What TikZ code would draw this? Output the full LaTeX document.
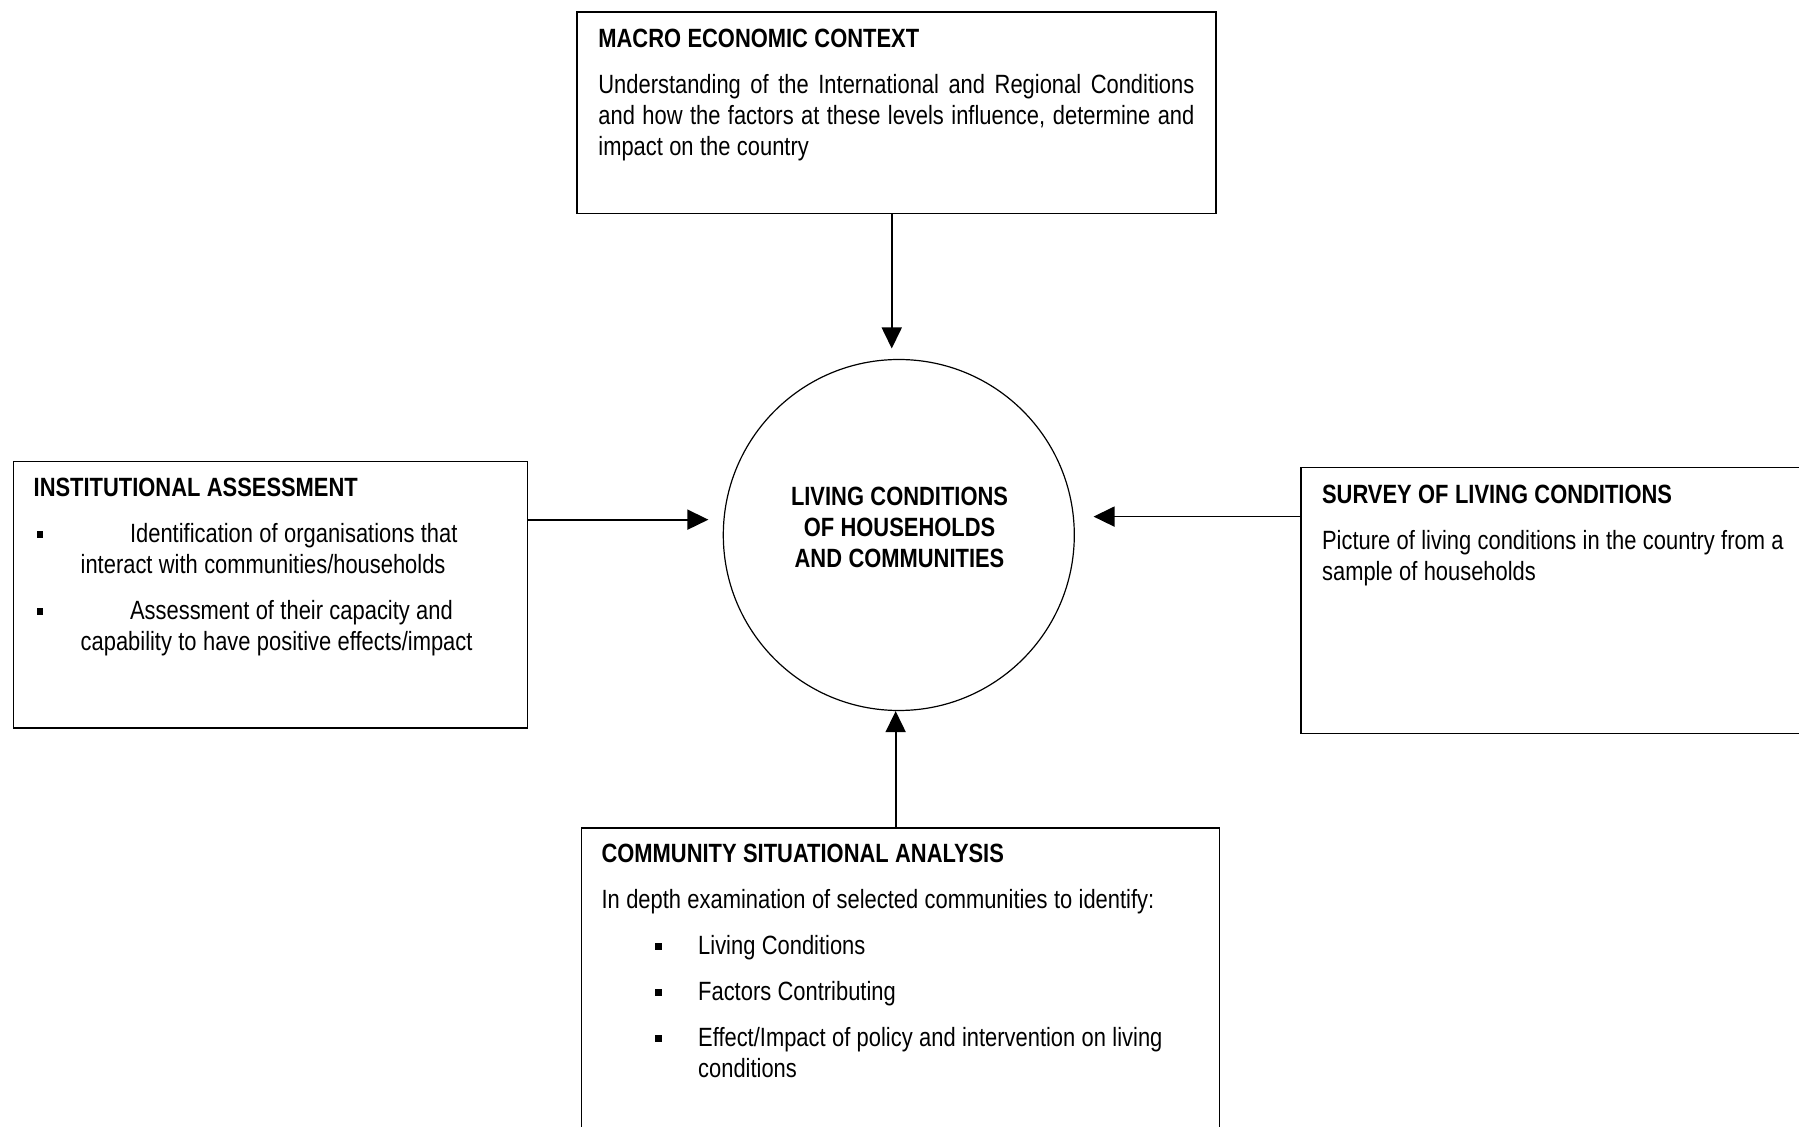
\documentclass[tikz,border=0pt]{standalone}
\usepackage{fontspec}
\setmainfont{Liberation Sans}[FakeStretch=0.83, WordSpace=1.05]
\usetikzlibrary{arrows.meta,positioning}

\newcommand{\sqbul}{\rule[2.6pt]{3.2pt}{3.2pt}}
\newcommand{\institem}[1]{{\leftskip=23.5pt\noindent\hspace*{-23.5pt}%
  \makebox[48.2pt][l]{\hspace{1.5pt}\sqbul}#1\par}}
\newcommand{\csaitem}[1]{{\leftskip=48.3pt\noindent\llap{\sqbul\hspace{18.3pt}}#1\par}}

\begin{document}
\begin{tikzpicture}[x=0.5pt, y=-0.5pt,
  bx/.style={draw, line width=0.75pt, anchor=north west, inner sep=0pt},
  tx/.style={anchor=north west, inner sep=0pt, align=flush left,
             font=\fontsize{13.2}{15.5}\selectfont\setlength{\parskip}{7.5pt}\setlength{\parindent}{0pt}},
  ar/.style={-{Triangle[length=10.5pt,width=10pt]}, line width=0.85pt}]
\useasboundingbox (0,0) rectangle (1799,1127);
\clip (0,0) rectangle (1799,1127);

% boxes
\node[bx, minimum width=319.5pt, minimum height=100.75pt] (macro) at (576,11.5) {};
\node[bx, minimum width=257pt, minimum height=133.2pt] (inst) at (12.6,461) {};
\node[bx, minimum width=262pt, minimum height=133pt] (survey) at (1300,467) {};
\node[bx, minimum width=319pt, minimum height=160pt] (csa) at (580.5,827.2) {};
\node[draw, circle, line width=0.6pt, inner sep=0pt, minimum size=175.5pt] (living) at (898.8,535) {};

% texts
\node[tx, align=justify, text width=298pt] (macrotxt) at (598,28.4)
  {\textbf{MACRO ECONOMIC CONTEXT}\par
   Understanding of the International and Regional Conditions \linebreak
   and how the factors at these levels influence, determine and \linebreak
   impact on the country};
\node[tx, text width=245pt] (insttxt) at (33.3,478)
  {\textbf{INSTITUTIONAL ASSESSMENT}\par
   \institem{Identification of organisations that\newline interact with communities/households}
   \institem{Assessment of their capacity and\newline capability to have positive effects/impact}};
\node[tx, text width=235pt] (surveytxt) at (1321.7,485)
  {\textbf{SURVEY OF LIVING CONDITIONS}\par
   Picture of living conditions in the country from a\newline sample of households};
\node[tx, text width=310pt] (csatxt) at (601.2,844)
  {\textbf{COMMUNITY SITUATIONAL ANALYSIS}\par
   In depth examination of selected communities to identify:\par
   \csaitem{Living Conditions}
   \csaitem{Factors Contributing}
   \csaitem{Effect/Impact of policy and intervention on living\newline conditions}};
\node[tx, anchor=center, align=center, font=\fontsize{13.2}{15.5}\selectfont\bfseries] (livingtxt) at (899.5,527.8)
  {LIVING CONDITIONS\\OF HOUSEHOLDS\\AND COMMUNITIES};

% arrows into the circle
\draw[ar, shorten >=5.2pt] ([xshift=-2.25pt]macro.south) -- ([xshift=-2.25pt]macro.south |- living.north);
\draw[ar, shorten >=7.5pt] (inst.east |- living.175) -- (living.175);
\draw[ar, shorten >=9.8pt] (survey.west |- living.6) -- (living.6);
\draw[ar] ([xshift=-2.3pt]csa.north) -- ([xshift=-2.3pt]csa.north |- living.south);
\end{tikzpicture}
\end{document}
